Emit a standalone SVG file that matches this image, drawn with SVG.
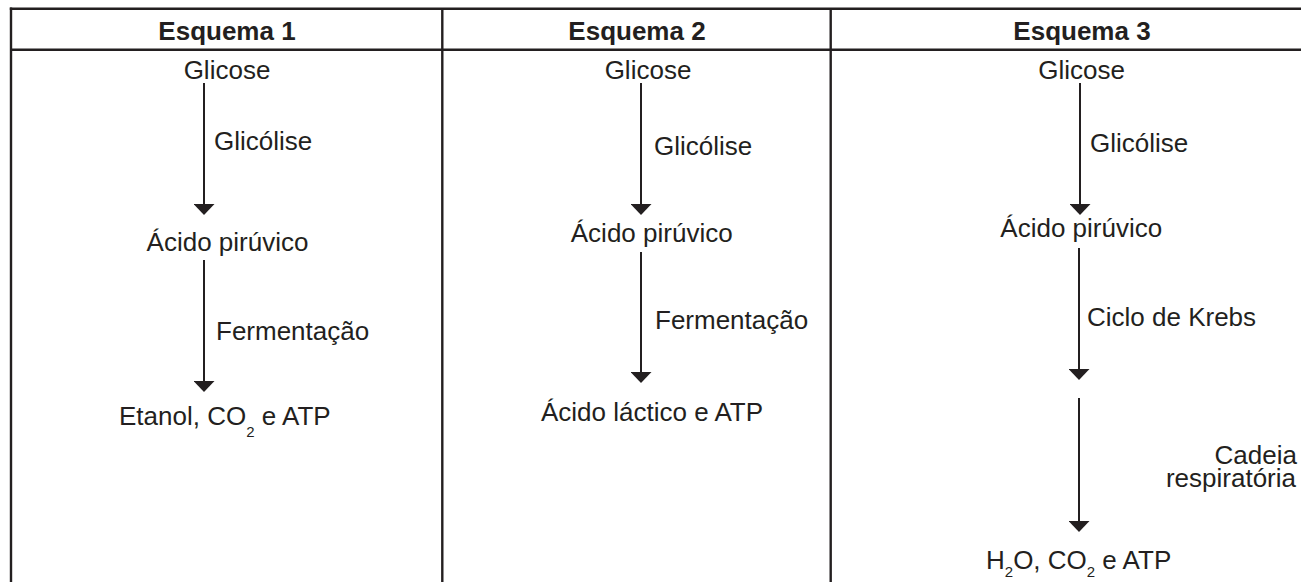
<svg xmlns="http://www.w3.org/2000/svg" width="1301" height="582" viewBox="0 0 1301 582">
<style>
.t{font-family:"Liberation Sans",Arial,sans-serif;font-size:26px;fill:#231f20}
.h{font-family:"Liberation Sans",Arial,sans-serif;font-size:26px;font-weight:bold;fill:#231f20;text-anchor:middle}
.m{text-anchor:middle}
.e{text-anchor:end}
.sub{font-size:15px}
.grid{stroke:#231f20;stroke-width:2.4;fill:none}
.arr{stroke:#231f20;stroke-width:2;fill:none;marker-end:url(#ah)}
</style>
<defs>
<marker id="ah" viewBox="0 0 11 21" refX="5" refY="10.5" markerWidth="11" markerHeight="21" markerUnits="userSpaceOnUse" orient="auto">
<path d="M0,0 L11,10.5 L0,21 Z" fill="#231f20"/>
</marker>
</defs>
<rect width="1301" height="582" fill="#ffffff"/>
<g id="table" class="grid">
<line x1="9.8" y1="8.7" x2="1301" y2="8.7"/>
<line x1="11" y1="49.7" x2="1301" y2="49.7"/>
<line x1="11" y1="7.5" x2="11" y2="582"/>
<line x1="442.3" y1="8.7" x2="442.3" y2="582"/>
<line x1="830.7" y1="8.7" x2="830.7" y2="582"/>
</g>
<g id="headers">
<text class="h" x="227" y="40">Esquema 1</text>
<text class="h" x="637" y="40">Esquema 2</text>
<text class="h" x="1082" y="40">Esquema 3</text>
</g>
<g id="connectors">
<line class="arr" x1="204" y1="83" x2="204" y2="209"/>
<line class="arr" x1="204" y1="260" x2="204" y2="386"/>
<line class="arr" x1="641" y1="83" x2="641" y2="209"/>
<line class="arr" x1="641" y1="252" x2="641" y2="377"/>
<line class="arr" x1="1080" y1="83" x2="1080" y2="209"/>
<line class="arr" x1="1079" y1="248" x2="1079" y2="374"/>
<line class="arr" x1="1079" y1="398" x2="1079" y2="526"/>
</g>
<g id="s1-glicose"><text class="t m" x="227" y="79">Glicose</text></g>
<g id="s1-glicolise"><text class="t" x="214" y="150">Glicólise</text></g>
<g id="s1-piruvico"><text class="t m" x="227.5" y="251">Ácido pirúvico</text></g>
<g id="s1-fermentacao"><text class="t" x="216" y="340">Fermentação</text></g>
<g id="s1-produto"><text class="t" x="119" y="425">Etanol, CO<tspan class="sub" dy="12">2</tspan><tspan dy="-12"> e ATP</tspan></text></g>
<g id="s2-glicose"><text class="t m" x="648" y="79">Glicose</text></g>
<g id="s2-glicolise"><text class="t" x="654" y="155">Glicólise</text></g>
<g id="s2-piruvico"><text class="t m" x="651.7" y="242">Ácido pirúvico</text></g>
<g id="s2-fermentacao"><text class="t" x="655" y="329">Fermentação</text></g>
<g id="s2-produto"><text class="t" x="541" y="421">Ácido láctico e ATP</text></g>
<g id="s3-glicose"><text class="t m" x="1081.7" y="79">Glicose</text></g>
<g id="s3-glicolise"><text class="t" x="1090" y="152">Glicólise</text></g>
<g id="s3-piruvico"><text class="t m" x="1081.3" y="237">Ácido pirúvico</text></g>
<g id="s3-krebs"><text class="t" x="1087" y="326">Ciclo de Krebs</text></g>
<g id="s3-cadeia"><text class="t e"><tspan x="1297" y="464">Cadeia</tspan><tspan x="1296" y="487">respiratória</tspan></text></g>
<g id="s3-produto"><text class="t" x="986" y="569">H<tspan class="sub" dy="8">2</tspan><tspan dy="-8">O, CO</tspan><tspan class="sub" dy="8">2</tspan><tspan dy="-8"> e ATP</tspan></text></g>
</svg>
